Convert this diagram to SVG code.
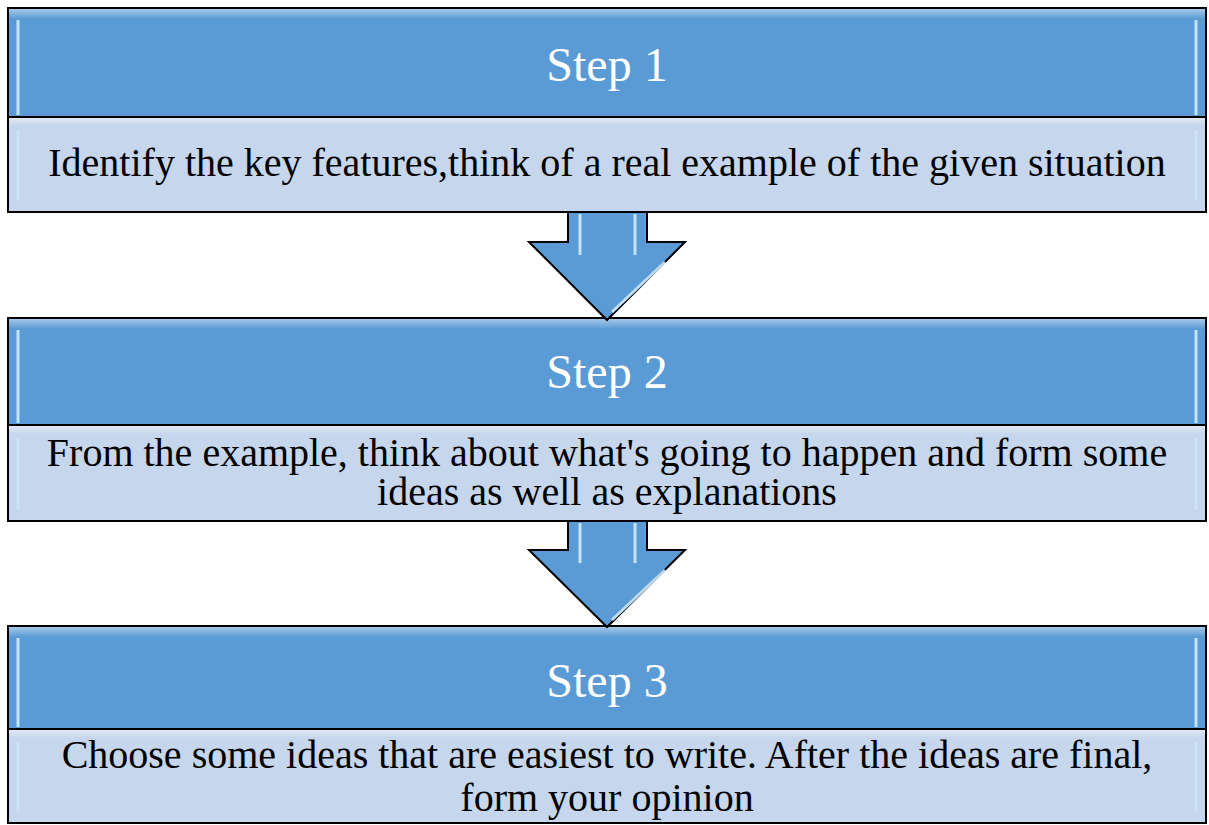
<svg xmlns="http://www.w3.org/2000/svg" width="1209" height="825" viewBox="0 0 1209 825">
<style>
.hdr{fill:#5B9BD5;stroke:#000;stroke-width:2}
.bdy{fill:#C6D6EC;stroke:#000;stroke-width:2}
.ht{font-family:"Liberation Serif","Times New Roman",serif;font-size:48px;fill:#fff;text-anchor:middle}
.bt{font-family:"Liberation Serif","Times New Roman",serif;font-size:40px;fill:#000;text-anchor:middle}
.arr{fill:#5B9BD5;stroke:#000;stroke-width:2;stroke-linejoin:miter}
.hl{fill:none;stroke:#CDEBFF;stroke-width:3;opacity:0.9}
.shine{fill:url(#topShine)}
</style>
<defs>
<linearGradient id="topShine" x1="0" y1="0" x2="0" y2="1">
<stop offset="0" stop-color="#ffffff" stop-opacity="0.45"/>
<stop offset="1" stop-color="#ffffff" stop-opacity="0"/>
</linearGradient>
</defs>
<rect width="1209" height="825" fill="#fff"/>

<g id="step1">
<rect class="hdr" x="8" y="8" width="1198" height="109"/>
<rect class="shine" x="9" y="9" width="1196" height="10"/>
<path class="hl" d="M18 20 L18 115"/><path class="hl" d="M1196 20 L1196 115"/>
<text class="ht" x="607" y="81">Step 1</text>
<rect class="bdy" x="8" y="117" width="1198" height="95"/>
<rect class="shine" x="9" y="118" width="1196" height="8"/>
<path class="hl" d="M18 130 L18 200" style="opacity:0.6"/><path class="hl" d="M1196 130 L1196 200" style="opacity:0.6"/>
<text class="bt" x="607" y="176">Identify the key features,think of a real example of the given situation</text>
</g>

<g id="step2">
<rect class="hdr" x="8" y="318" width="1198" height="107"/>
<rect class="shine" x="9" y="319" width="1196" height="10"/>
<path class="hl" d="M18 330 L18 423"/><path class="hl" d="M1196 330 L1196 423"/>
<text class="ht" x="607" y="388">Step 2</text>
<rect class="bdy" x="8" y="425" width="1198" height="96"/>
<rect class="shine" x="9" y="426" width="1196" height="8"/>
<path class="hl" d="M18 438 L18 510" style="opacity:0.6"/><path class="hl" d="M1196 438 L1196 510" style="opacity:0.6"/>
<text class="bt" x="607" y="466">From the example, think about what's going to happen and form some</text>
<text class="bt" x="607" y="505">ideas as well as explanations</text>
</g>

<g id="step3">
<rect class="hdr" x="8" y="626" width="1198" height="103"/>
<rect class="shine" x="9" y="627" width="1196" height="10"/>
<path class="hl" d="M18 638 L18 727"/><path class="hl" d="M1196 638 L1196 727"/>
<text class="ht" x="607" y="697">Step 3</text>
<rect class="bdy" x="8" y="729" width="1198" height="94"/>
<rect class="shine" x="9" y="730" width="1196" height="8"/>
<path class="hl" d="M18 742 L18 812" style="opacity:0.6"/><path class="hl" d="M1196 742 L1196 812" style="opacity:0.6"/>
<text class="bt" x="607" y="768">Choose some ideas that are easiest to write. After the ideas are final,</text>
<text class="bt" x="607" y="811">form your opinion</text>
</g>

<g id="connectors">
<g id="arrow1">
<polygon class="arr" points="568,212 647,212 647,242 685,242 607,320 529,242 568,242"/>
<path class="hl" d="M580 214 L580 255"/><path class="hl" d="M635 214 L635 255"/>
<path class="hl" d="M665 262 L612 312"/>
</g>
<g id="arrow2">
<polygon class="arr" points="568,521 647,521 647,550 685,550 607,627 529,550 568,550"/>
<path class="hl" d="M580 523 L580 563"/><path class="hl" d="M635 523 L635 563"/>
<path class="hl" d="M665 570 L612 620"/>
</g>
</g>
</svg>
